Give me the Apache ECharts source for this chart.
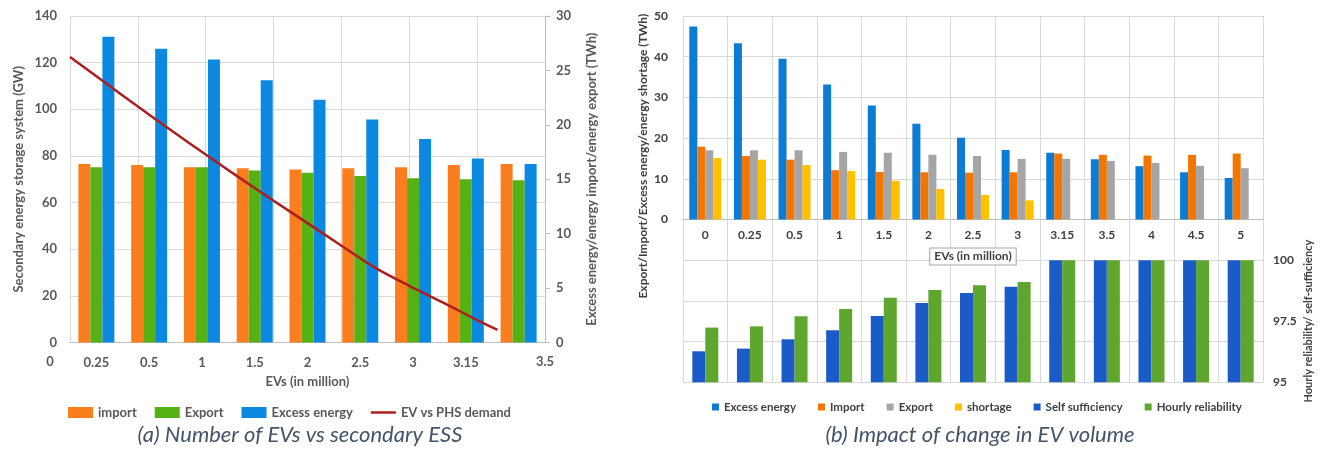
<!DOCTYPE html>
<html>
<head>
<meta charset="utf-8">
<script src="https://cdn.jsdelivr.net/npm/echarts@6/dist/echarts.min.js"></script>
<style>
  html, body { margin: 0; padding: 0; background: #ffffff; }
  #chart { width: 1327px; height: 453px; }
</style>
</head>
<body>
<div id="chart"></div>
<script>
// ---------- (a) Number of EVs vs secondary ESS ----------
const evCatsA = ['0.25', '0.5', '1', '1.5', '2', '2.5', '3', '3.15', ''];
const importA = [16.4, 16.3, 16.1, 16.0, 15.9, 16.0, 16.1, 16.3, 16.4];   // TWh
const exportA = [16.1, 16.1, 16.1, 15.8, 15.6, 15.3, 15.1, 15.0, 14.9];   // TWh
const excessA = [28.1, 27.0, 26.0, 24.1, 22.3, 20.5, 18.7, 16.9, 16.4];   // TWh
const phsEvs = [0, 0.25, 0.5, 0.75, 1, 1.25, 1.5, 1.75, 2, 2.25, 2.5, 2.75, 3, 3.15]; // million EVs
const phsDemand = [122.4, 111.8, 101.2, 90.8, 80.6, 70.6, 60.8, 51.2, 41.5, 32.0, 24.3, 17.1, 9.6, 5.4]; // GW
const evAxisEnds = [0, 3.5];

// ---------- (b) Impact of change in EV volume ----------
const evCatsB = ['0', '0.25', '0.5', '1', '1.5', '2', '2.5', '3', '3.15', '3.5', '4', '4.5', '5'];
const excessB = [47.4, 43.3, 39.5, 33.2, 28.0, 23.5, 20.1, 17.1, 16.4, 14.8, 13.1, 11.6, 10.2];
const importB = [17.9, 15.6, 14.7, 12.1, 11.7, 11.6, 11.5, 11.6, 16.2, 15.9, 15.7, 15.9, 16.2];
const exportB = [17.0, 17.0, 17.0, 16.6, 16.4, 15.9, 15.6, 14.9, 14.9, 14.4, 13.9, 13.2, 12.6];
const shortageB = [15.1, 14.7, 13.4, 11.9, 9.5, 7.5, 6.0, 4.7, 0, 0, 0, 0, 0];
const selfSufficiency = [96.27, 96.38, 96.76, 97.13, 97.72, 98.25, 98.66, 98.91, 100, 100, 100, 100, 100];
const hourlyReliability = [97.24, 97.29, 97.70, 98.0, 98.46, 98.78, 98.97, 99.11, 100, 100, 100, 100, 100];

const FONT = 'Lato, "Open Sans", "Noto Sans", sans-serif';
const GRID_LINE = '#D9D9D9';
const TXT_A = '#595959';
const TXT_B = '#404040';

const C = {
  orangeA: '#FA7D1E', greenA: '#56B115', blueA: '#0B89E0', red: '#AF1E1E',
  excessB: '#0B7BD3', importB: '#F47500', exportB: '#A5A5A5', shortB: '#FFC000',
  selfB: '#1B5BC8', hourlyB: '#5EA62D'
};

const boldA = { fontFamily: FONT, fontSize: 13, fontWeight: 'bold', color: TXT_A };
const boldB = { fontFamily: FONT, fontSize: 12, fontWeight: 'bold', color: TXT_B };

// panel (b): the category row sits on the zero line of the energy axis,
// which is this far above the bottom of the plot (-40 .. 0 on a 90-unit span)
const GRID_B_TOP = 16, GRID_B_BOTTOM = 70.7, H = 453;
const plotHB = H - GRID_B_TOP - GRID_B_BOTTOM;
const zeroLift = plotHB * 40 / 90;

const chart = echarts.init(document.getElementById('chart'), null, { renderer: 'canvas' });

const captionStyle = { fontFamily: FONT, fontSize: 22, fontStyle: 'italic', fontWeight: 'normal', color: '#44546A' };

const option = {
  backgroundColor: '#ffffff',
  animation: false,
  title: [
    { text: '(a) Number of EVs vs secondary ESS', left: 295, top: 419, textAlign: 'center', textStyle: captionStyle },
    { text: '(b) Impact of change in EV volume', left: 975, top: 419, textAlign: 'center', textStyle: captionStyle }
  ],
  legend: [
    {
      left: 63, top: 401, icon: 'rect', itemWidth: 25, itemHeight: 11, itemGap: 18,
      textStyle: boldA,
      data: [
        { name: 'import', itemStyle: { color: C.orangeA } },
        { name: 'Export', itemStyle: { color: C.greenA } },
        { name: 'Excess energy', itemStyle: { color: C.blueA } },
        { name: 'EV vs PHS demand', icon: 'path://M0,0 L30,0 L30,3 L0,3 Z', itemHeight: 3, itemStyle: { color: C.red } }
      ]
    },
    {
      left: 707, top: 396, icon: 'rect', itemWidth: 7, itemHeight: 7, itemGap: 22,
      textStyle: { fontFamily: FONT, fontSize: 11.5, fontWeight: 'bold', color: TXT_B },
      data: [
        { name: 'Excess energy', itemStyle: { color: C.excessB } },
        { name: 'Import', itemStyle: { color: C.importB } },
        { name: 'Export', itemStyle: { color: C.exportB } },
        { name: 'shortage', itemStyle: { color: C.shortB } },
        { name: 'Self sufficiency', itemStyle: { color: C.selfB } },
        { name: 'Hourly reliability', itemStyle: { color: C.hourlyB } }
      ]
    }
  ],
  grid: [
    { left: 70, right: 782, top: 16, bottom: 110.5 },
    { left: 683, right: 64, top: GRID_B_TOP, bottom: GRID_B_BOTTOM }
  ],
  xAxis: [
    // (a) categories carrying the bars
    {
      gridIndex: 0, type: 'category', position: 'bottom', data: evCatsA,
      axisLine: { show: true, onZero: false, lineStyle: { color: '#BFBFBF', width: 1 } },
      axisTick: { show: false },
      axisLabel: Object.assign({ interval: 0, margin: 14 }, boldA),
      splitLine: { show: false },
      name: 'EVs (in million)', nameLocation: 'middle', nameGap: 33,
      nameTextStyle: boldA
    },
    // (a) continuous EV axis for the PHS demand curve
    {
      gridIndex: 0, type: 'value', position: 'bottom',
      min: evAxisEnds[0], max: evAxisEnds[1], interval: 0.5,
      axisLine: { show: false, onZero: false },
      axisTick: { show: false },
      splitLine: { show: true, lineStyle: { color: GRID_LINE, width: 1 } },
      axisLabel: Object.assign({
        margin: 13,
        formatter: function (v) {
          if (Math.abs(v - evAxisEnds[0]) < 1e-6) return '{z|' + v + '}';
          if (Math.abs(v - evAxisEnds[1]) < 1e-6) return String(v);
          return '';
        },
        rich: { z: { padding: [0, 40, 0, 0], fontFamily: FONT, fontSize: 13, fontWeight: 'bold', color: TXT_A } }
      }, boldA)
    },
    // (b) categories for the energy bars, drawn on the zero line
    {
      gridIndex: 1, type: 'category', data: evCatsB, position: 'bottom', offset: -zeroLift,
      axisLine: { show: true, onZero: false, lineStyle: { color: '#BFBFBF', width: 1 } },
      axisTick: { show: false },
      axisLabel: Object.assign({ interval: 0, margin: 10 }, boldB),
      splitLine: { show: true, interval: 0, lineStyle: { color: GRID_LINE, width: 1 } },
      name: 'EVs (in million)', nameLocation: 'middle', nameGap: 29,
      nameTextStyle: Object.assign({
        borderColor: '#A6A6A6', borderWidth: 1, padding: [2, 4, 2, 4], backgroundColor: '#ffffff'
      }, boldB)
    },
    // (b) categories for the reliability bars
    {
      gridIndex: 1, type: 'category', data: evCatsB, show: false,
      axisLine: { onZero: false }
    }
  ],
  yAxis: [
    {
      gridIndex: 0, type: 'value', position: 'left', min: 0, max: 140, interval: 20,
      axisLine: { show: false, onZero: false },
      axisTick: { show: false },
      axisLabel: Object.assign({ margin: 13 }, boldA),
      splitLine: { show: true, lineStyle: { color: GRID_LINE, width: 1 } },
      name: 'Secondary energy storage system (GW)', nameLocation: 'middle', nameGap: 45,
      nameTextStyle: boldA
    },
    {
      gridIndex: 0, type: 'value', position: 'right', min: 0, max: 30, interval: 5,
      axisLine: { show: true, onZero: false, lineStyle: { color: '#BFBFBF', width: 1 } },
      axisTick: { show: true, length: 5, lineStyle: { color: '#BFBFBF' } },
      axisLabel: Object.assign({ margin: 11 }, boldA),
      splitLine: { show: false },
      name: 'Excess energy/energy import/energy export (TWh)', nameLocation: 'middle', nameGap: 40,
      nameRotate: 90,
      nameTextStyle: boldA
    },
    {
      gridIndex: 1, type: 'value', position: 'left', min: -40, max: 50, interval: 10,
      axisLine: { show: false, onZero: false },
      axisTick: { show: false },
      axisLabel: Object.assign({
        margin: 15,
        formatter: function (v) { return v >= 0 ? String(v) : ''; }
      }, boldB),
      splitLine: { show: true, lineStyle: { color: GRID_LINE, width: 1 } },
      name: 'Export/Import/Excess energy/energy shortage (TWh)', nameLocation: 'middle', nameGap: 34,
      nameTextStyle: Object.assign({ padding: [0, 0, 0, 86] }, boldB)
    },
    {
      gridIndex: 1, type: 'value', position: 'right', min: 95, max: 110, interval: 2.5,
      axisLine: { show: false, onZero: false },
      axisTick: { show: false },
      axisLabel: Object.assign({
        margin: 10,
        formatter: function (v) { return v <= 100 ? String(v) : ''; }
      }, boldB),
      splitLine: { show: false },
      name: 'Hourly reliability/ self-sufficiency', nameLocation: 'middle', nameGap: 40,
      nameRotate: 90,
      nameTextStyle: Object.assign({ padding: [0, 244, 0, 0] }, boldB, { fontSize: 11 })
    }
  ],
  series: [
    // (a)
    { name: 'import', type: 'bar', xAxisIndex: 0, yAxisIndex: 1, data: importA,
      barWidth: 12, barGap: '0%', itemStyle: { color: C.orangeA } },
    { name: 'Export', type: 'bar', xAxisIndex: 0, yAxisIndex: 1, data: exportA,
      barWidth: 12, barGap: '0%', itemStyle: { color: C.greenA } },
    { name: 'Excess energy', type: 'bar', xAxisIndex: 0, yAxisIndex: 1, data: excessA,
      barWidth: 12, barGap: '0%', itemStyle: { color: C.blueA } },
    { name: 'EV vs PHS demand', type: 'line', xAxisIndex: 1, yAxisIndex: 0,
      data: phsEvs.map(function (x, i) { return [x, phsDemand[i]]; }),
      symbol: 'none', smooth: 0.3, lineStyle: { color: C.red, width: 2.5 }, itemStyle: { color: C.red }, z: 5 },
    // (b) energy
    { name: 'Excess energy', type: 'bar', xAxisIndex: 2, yAxisIndex: 2, data: excessB,
      barWidth: 8, barGap: '0%', itemStyle: { color: C.excessB } },
    { name: 'Import', type: 'bar', xAxisIndex: 2, yAxisIndex: 2, data: importB,
      barWidth: 8, barGap: '0%', itemStyle: { color: C.importB } },
    { name: 'Export', type: 'bar', xAxisIndex: 2, yAxisIndex: 2, data: exportB,
      barWidth: 8, barGap: '0%', itemStyle: { color: C.exportB } },
    { name: 'shortage', type: 'bar', xAxisIndex: 2, yAxisIndex: 2, data: shortageB,
      barWidth: 8, barGap: '0%', itemStyle: { color: C.shortB } },
    // (b) reliability
    { name: 'Self sufficiency', type: 'bar', xAxisIndex: 3, yAxisIndex: 3, data: selfSufficiency,
      barWidth: 13, barGap: '0%', clip: true, itemStyle: { color: C.selfB } },
    { name: 'Hourly reliability', type: 'bar', xAxisIndex: 3, yAxisIndex: 3, data: hourlyReliability,
      barWidth: 13, barGap: '0%', clip: true, itemStyle: { color: C.hourlyB } }
  ]
};

chart.setOption(option);
</script>
</body>
</html>
